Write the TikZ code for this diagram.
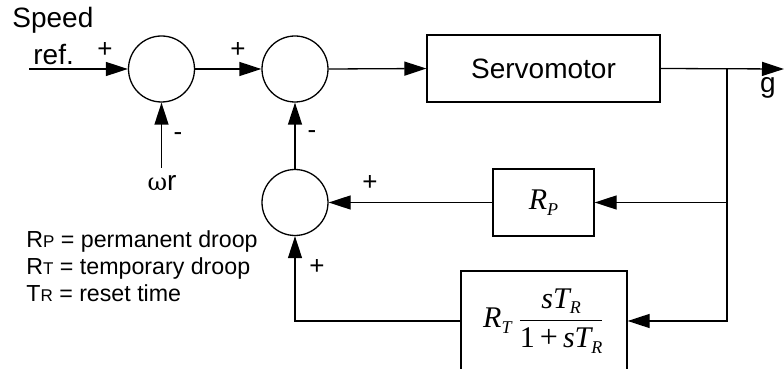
\documentclass[tikz,border=0pt]{standalone}
\usepackage{fontspec}
\setmainfont{Liberation Sans}
\newfontfamily\tms{Liberation Serif}
\usetikzlibrary{arrows.meta}

\newcommand{\lsub}[1]{{\fontsize{8.5}{10}\selectfont #1}}
\newcommand{\tsub}[1]{\raisebox{-0.4ex}{\fontsize{9}{10}\selectfont #1}}

\tikzset{
  sumnode/.style={draw,circle,minimum size=33pt,inner sep=0pt,line width=0.65pt},
  blockbox/.style={draw,rectangle,inner sep=0pt,line width=0.65pt,font=\fontsize{14}{16}\selectfont},
  sig/.style={line width=0.65pt,-{Triangle[length=11pt,width=7pt]}},
  sgn/.style={inner sep=0pt,font=\fontsize{13}{15}\selectfont},
  lbl/.style={inner sep=0pt,font=\fontsize{14}{16}\selectfont},
  legend/.style={inner sep=0pt,anchor=base west,font=\fontsize{11.6}{14}\selectfont}
}

\begin{document}
\begin{tikzpicture}[x=0.5pt,y=-0.5pt]
\useasboundingbox (0,0) rectangle (784,369);
% summing junctions
\node[sumnode] (s1) at (161.5,69) {};
\node[sumnode] (s2) at (295,69) {};
\node[sumnode] (s3) at (295,202.5) {};
% blocks
\node[blockbox,minimum width=116.5pt,minimum height=33.5pt] (servo) at (543.5,68.5) {Servomotor};
\node[blockbox,minimum width=50.5pt,minimum height=33.5pt] (rp) at (543.5,202.5)
  {\fontsize{15}{17}\tms\itshape R\tsub{P}};
\node[blockbox,minimum width=83pt,minimum height=50pt] (rt) at (544,321)
  {\fontsize{15}{17}\tms\itshape R\tsub{T}\hspace{3pt}$\displaystyle\frac{\hbox{\tms\itshape sT\tsub{R}}}{\hbox{\tms\upshape 1\,{\fontsize{16}{17}\selectfont+}\,\itshape sT\tsub{R}}}$};
% free ends
\coordinate (in) at (29,69);
\coordinate (wr) at (161.5,168);
\coordinate (br) at (727,69);
\coordinate (out) at (784,69);
% forward path
\draw[sig] (in) -- (s1.west);
\draw[sig] (s1.east) -- (s2.west);
\draw[sig] (s2.east) -- (servo.west);
\draw[sig] (servo.east) -- (out);
\draw[sig] (wr) -- (s1.south);
% feedback
\draw[sig] (br) |- (rp.east);
\draw[sig] (br) |- (rt.east);
\draw[sig] (rp.west) -- (s3.east);
\draw[sig] (rt.west) -| (s3.south);
\draw[sig] (s3.north) -- (s2.south);
% labels
\node[lbl,anchor=base west] (spd) at (12,28) {Speed};
\node[lbl,anchor=base west] (ref) at (33,65) {ref.};
\node[lbl] (omg) at (162,183) {{\fontspec{DejaVu Serif}\fontsize{12}{14}\selectfont ω}r};
\node[lbl] (g) at (768,88) {g};
\node[sgn] (p1) at (105,50) {+};
\node[sgn] (p2) at (238,50) {+};
\node[sgn] (m1) at (178,137) {-};
\node[sgn] (m2) at (312,135) {-};
\node[sgn] (p3) at (370,183) {+};
\node[sgn] (p4) at (317,267) {+};
% legend
\node[legend] (l1) at (26,248) {R\lsub{P} = permanent droop};
\node[legend] (l2) at (26,275) {R\lsub{T} = temporary droop};
\node[legend] (l3) at (26,302) {T\lsub{R} = reset time};
\end{tikzpicture}
\end{document}
